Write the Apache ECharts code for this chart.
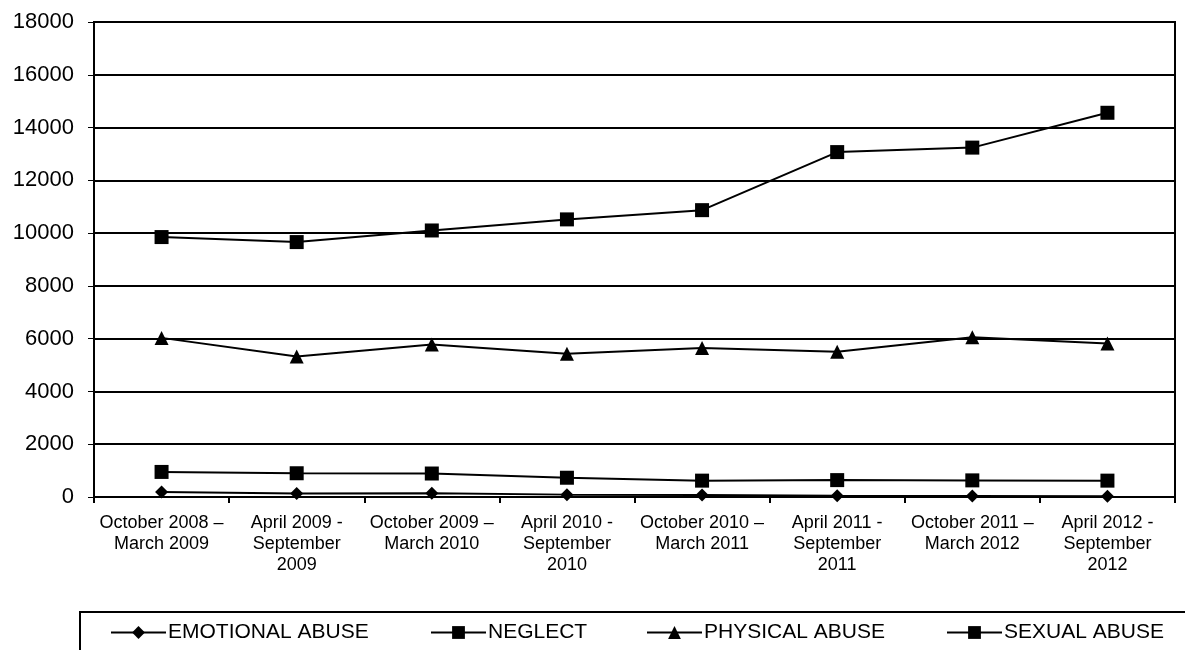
<!DOCTYPE html>
<html>
<head>
<meta charset="utf-8">
<script src="https://cdn.jsdelivr.net/npm/echarts@6/dist/echarts.min.js"></script>
<style>html,body{margin:0;padding:0;background:#fff}#c{width:1185px;height:650px}</style>
</head>
<body>
<div id="c"></div>
<script>
const categories = [
  'October 2008 –\nMarch 2009',
  'April 2009 -\nSeptember\n2009',
  'October 2009 –\nMarch 2010',
  'April 2010 -\nSeptember\n2010',
  'October 2010 –\nMarch 2011',
  'April 2011 -\nSeptember\n2011',
  'October 2011 –\nMarch 2012',
  'April 2012 -\nSeptember\n2012'
];
const emotionalAbuse = [190, 130, 140, 90, 80, 50, 40, 30];
const neglect = [9850, 9660, 10100, 10520, 10870, 13070, 13240, 14560];
const physicalAbuse = [6030, 5320, 5780, 5430, 5650, 5500, 6050, 5820];
const sexualAbuse = [950, 900, 890, 730, 620, 640, 630, 620];
const yTicks = {min: 0, max: 18000, interval: 2000};

const FONT = '"Liberation Sans", Arial, sans-serif';
const chart = echarts.init(document.getElementById('c'));

function series(name, data, symbol, size) {
  return {
    name, type: 'line', data, symbol, symbolSize: size,
    showAllSymbol: true,
    lineStyle: {color: '#000', width: 2},
    itemStyle: {color: '#000'},
    emphasis: {disabled: true},
    animation: false
  };
}

function legend(name, left) {
  return {
    data: [name], left, top: 622,
    itemWidth: 55, itemHeight: 16, itemGap: 0,
    textStyle: {fontFamily: FONT, fontSize: 21, color: '#000', padding: [0, 0, 0, -3]},
    padding: 0
  };
}

chart.setOption({
  backgroundColor: '#fff',
  animation: false,
  grid: {left: 94, right: 10, top: 22, bottom: 153, show: true, borderColor: '#000', borderWidth: 2, backgroundColor: 'transparent'},
  xAxis: {
    type: 'category', data: categories, boundaryGap: true,
    axisLine: {lineStyle: {color: '#000', width: 2}},
    axisTick: {show: true, length: 6, lineStyle: {color: '#000', width: 2}},
    axisLabel: {fontFamily: FONT, fontSize: 18, color: '#000', margin: 16, lineHeight: 21, interval: 0, align: 'center'},
    splitLine: {show: false}
  },
  yAxis: {
    type: 'value', min: yTicks.min, max: yTicks.max, interval: yTicks.interval,
    axisLine: {show: true, lineStyle: {color: '#000', width: 2}},
    axisTick: {show: true, length: 6, lineStyle: {color: '#000', width: 1}},
    axisLabel: {fontFamily: FONT, fontSize: 22, color: '#000', margin: 20, formatter: v => String(v)},
    splitLine: {show: true, lineStyle: {color: '#000', width: 2}}
  },
  legend: [
    legend('EMOTIONAL ABUSE', 110),
    legend('NEGLECT', 430),
    legend('PHYSICAL ABUSE', 646),
    legend('SEXUAL ABUSE', 946)
  ],
  graphic: [
    {type: 'polyline', shape: {points: [[80, 660], [80, 612], [1185, 612]]}, style: {stroke: '#000', lineWidth: 2, fill: null}, silent: true}
  ],
  series: [
    series('EMOTIONAL ABUSE', emotionalAbuse, 'diamond', 13),
    series('NEGLECT', neglect, 'rect', 14),
    series('PHYSICAL ABUSE', physicalAbuse, 'triangle', 14),
    series('SEXUAL ABUSE', sexualAbuse, 'rect', 14)
  ]
});
</script>
</body>
</html>
